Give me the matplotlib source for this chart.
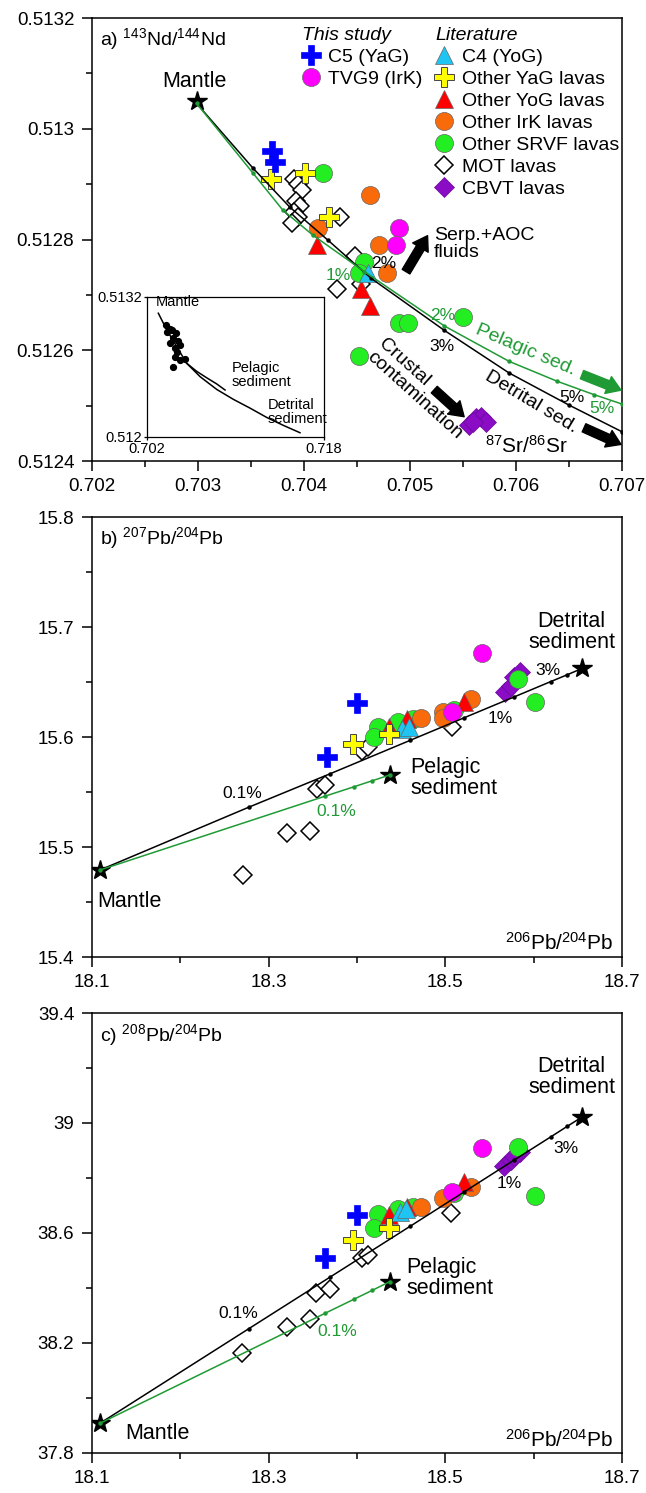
import matplotlib
matplotlib.use('Agg')
import matplotlib.pyplot as plt
from matplotlib.lines import Line2D
from matplotlib.ticker import FixedLocator, FuncFormatter
import numpy as np

plt.rcParams['font.family'] = ['Liberation Sans', 'DejaVu Sans']
plt.rcParams['mathtext.fontset'] = 'custom'
plt.rcParams['mathtext.rm'] = 'Liberation Sans'
plt.rcParams['mathtext.it'] = 'Liberation Sans:italic'

# ---------------- data: panel a (87Sr/86Sr vs 143Nd/144Nd) ----------------
a_x = {
    'C5':   [0.70370, 0.70373],
    'TVG9': [0.70490, 0.70487],
    'C4':   [0.70460],
    'YaG':  [0.70369, 0.70401, 0.70424],
    'YoG':  [0.70412, 0.70454, 0.70462],
    'IrK':  [0.70413, 0.70462, 0.70471, 0.70478],
    'SRVF': [0.70418, 0.70457, 0.70452, 0.70550, 0.70490, 0.70498, 0.70452],
    'MOT':  [0.70391, 0.70394, 0.70398, 0.70393, 0.70396, 0.70391, 0.70394,
             0.70389, 0.70434, 0.70448, 0.70454, 0.70431],
    'CBVT': [0.70556, 0.70562, 0.70567, 0.70572, 0.70559],
}
a_y = {
    'C5':   [0.51296, 0.51294],
    'TVG9': [0.51282, 0.51279],
    'C4':   [0.51274],
    'YaG':  [0.51291, 0.51292, 0.51284],
    'YoG':  [0.51279, 0.51271, 0.51268],
    'IrK':  [0.51282, 0.51288, 0.51279, 0.51274],
    'SRVF': [0.51292, 0.51276, 0.51274, 0.51266, 0.51265, 0.51265, 0.51259],
    'MOT':  [0.51291, 0.51290, 0.51289, 0.51287, 0.51286, 0.51285, 0.51284,
             0.51283, 0.51284, 0.51277, 0.51272, 0.51271],
    'CBVT': [0.512465, 0.512477, 0.512480, 0.512471, 0.512471],
}
# mixing curves
a_detrital_x = [0.702988, 0.703520, 0.703865, 0.704226, 0.704634, 0.705324, 0.705935, 0.706500, 0.706998]
a_detrital_y = [0.513046, 0.512929, 0.512859, 0.512799, 0.512730, 0.512636, 0.512559, 0.512501, 0.512453]
a_pelagic_x = [0.702988, 0.703520, 0.703802, 0.704085, 0.704571, 0.705324, 0.705935, 0.706389, 0.706734, 0.706998]
a_pelagic_y = [0.513046, 0.512920, 0.512853, 0.512808, 0.512742, 0.512644, 0.512580, 0.512544, 0.512520, 0.512503]
a_mantle = (0.70299, 0.51305)

# inset (wide view)
in_x = [0.70371, 0.70408, 0.70380, 0.70425, 0.70464, 0.70440, 0.70408, 0.70485,
        0.70500, 0.70455, 0.70470, 0.70455, 0.70500, 0.70545, 0.70440]
in_y = [0.512957, 0.512920, 0.512900, 0.512914, 0.512886, 0.512843, 0.512800, 0.512823,
        0.512786, 0.512758, 0.512729, 0.512686, 0.512657, 0.512663, 0.512595]
in_detrital_x = [0.70305, 0.70381, 0.70471, 0.70561, 0.70681, 0.70832, 0.70982, 0.71132, 0.71283, 0.71433, 0.71583]
in_detrital_y = [0.513058, 0.512915, 0.512771, 0.512629, 0.512515, 0.512405, 0.512320, 0.512245, 0.512165, 0.512097, 0.512034]
in_pelagic_x = [0.70561, 0.70651, 0.70741, 0.70832, 0.70907]
in_pelagic_y = [0.512629, 0.512560, 0.512505, 0.512452, 0.512400]

# ---------------- data: panel b (206Pb/204Pb vs 207Pb/204Pb) ----------------
b_x = {
    'C5':   [18.400, 18.366],
    'TVG9': [18.508, 18.541],
    'C4':   [18.451, 18.459],
    'YaG':  [18.396, 18.436],
    'YoG':  [18.436, 18.457, 18.521],
    'IrK':  [18.472, 18.497, 18.497, 18.529],
    'SRVF': [18.424, 18.419, 18.447, 18.463, 18.582, 18.602, 18.510],
    'MOT':  [18.271, 18.321, 18.347, 18.355, 18.364, 18.406, 18.412, 18.508],
    'CBVT': [18.568, 18.574, 18.578, 18.585],
}
b_y = {
    'C5':   [15.631, 15.582],
    'TVG9': [15.623, 15.676],
    'C4':   [15.607, 15.609],
    'YaG':  [15.594, 15.603],
    'YoG':  [15.609, 15.616, 15.632],
    'IrK':  [15.617, 15.623, 15.617, 15.635],
    'SRVF': [15.609, 15.600, 15.614, 15.616, 15.653, 15.632, 15.625],
    'MOT':  [15.475, 15.513, 15.515, 15.553, 15.556, 15.587, 15.591, 15.609],
    'CBVT': [15.641, 15.646, 15.655, 15.659],
}
b_detrital_x = [18.1094, 18.2774, 18.3700, 18.4606, 18.5210, 18.5777, 18.6193, 18.6382, 18.6552]
b_detrital_y = [15.4791, 15.5361, 15.5667, 15.5971, 15.6174, 15.6364, 15.6504, 15.6567, 15.6625]
b_pelagic_x = [18.1094, 18.3643, 18.3964, 18.4172, 18.4372]
b_pelagic_y = [15.4791, 15.5463, 15.5547, 15.5602, 15.5655]
b_mantle = (18.109, 15.479)
b_pel_end = (18.437, 15.5655)
b_det_end = (18.655, 15.6625)

# ---------------- data: panel c (206Pb/204Pb vs 208Pb/204Pb) ----------------
c_x = {
    'C5':   [18.400, 18.364],
    'TVG9': [18.541, 18.508],
    'C4':   [18.449, 18.456],
    'YaG':  [18.396, 18.436],
    'YoG':  [18.436, 18.457, 18.521],
    'IrK':  [18.472, 18.497, 18.529],
    'SRVF': [18.424, 18.419, 18.447, 18.463, 18.510, 18.582, 18.602],
    'MOT':  [18.270, 18.321, 18.347, 18.354, 18.370, 18.406, 18.412, 18.506],
    'CBVT': [18.566, 18.574, 18.585, 18.578],
}
c_y = {
    'C5':   [38.666, 38.508],
    'TVG9': [38.908, 38.750],
    'C4':   [38.678, 38.686],
    'YaG':  [38.575, 38.617],
    'YoG':  [38.666, 38.696, 38.787],
    'IrK':  [38.694, 38.726, 38.768],
    'SRVF': [38.669, 38.617, 38.686, 38.696, 38.744, 38.914, 38.736],
    'MOT':  [38.165, 38.257, 38.286, 38.381, 38.395, 38.508, 38.520, 38.672],
    'CBVT': [38.842, 38.866, 38.896, 38.880],
}
c_detrital_x = [18.1094, 18.2774, 18.3700, 18.4606, 18.5210, 18.5777, 18.6193, 18.6382, 18.6552]
c_detrital_y = [37.9081, 38.2514, 38.4404, 38.6252, 38.7488, 38.8648, 38.9495, 38.9884, 39.0229]
c_pelagic_x = [18.1094, 18.3643, 18.3964, 18.4172, 18.4372]
c_pelagic_y = [37.9081, 38.3085, 38.3587, 38.3913, 38.4230]
c_mantle = (18.109, 37.908)
c_pel_end = (18.437, 38.423)
c_det_end = (18.655, 39.023)

# ---------------- styles ----------------
GREEN_LINE = '#1f9a34'
styles = {
    'C5':   dict(marker='P', mfc='#0000ff', mec='#0000ff', ms=14, mew=0.5),
    'TVG9': dict(marker='o', mfc='#ff00ff', mec='#666666', ms=13, mew=0.5),
    'C4':   dict(marker='^', mfc='#1ec4f2', mec='#666666', ms=12.5, mew=0.5),
    'YaG':  dict(marker='P', mfc='#ffff00', mec='#444444', ms=14.5, mew=0.7),
    'YoG':  dict(marker='^', mfc='#ff0000', mec='#666666', ms=12.5, mew=0.5),
    'IrK':  dict(marker='o', mfc='#f96a0a', mec='#666666', ms=13, mew=0.5),
    'SRVF': dict(marker='o', mfc='#22ee22', mec='#666666', ms=13, mew=0.5),
    'MOT':  dict(marker='D', mfc='white', mec='black', ms=9.5, mew=1.1),
    'CBVT': dict(marker='D', mfc='#8a0cc4', mec='#6a0a9a', ms=10, mew=0.5),
}
labels = {
    'C5': 'C5 (YaG)', 'TVG9': 'TVG9 (IrK)', 'C4': 'C4 (YoG)',
    'YaG': 'Other YaG lavas', 'YoG': 'Other YoG lavas', 'IrK': 'Other IrK lavas',
    'SRVF': 'Other SRVF lavas', 'MOT': 'MOT lavas', 'CBVT': 'CBVT lavas',
}
draw_order = ['MOT', 'CBVT', 'SRVF', 'IrK', 'YoG', 'C4', 'YaG', 'TVG9', 'C5']

TICK_FS = 13.5
NOTE_FS = 15.5
PCT_FS = 12.5

fig = plt.figure(figsize=(6.46, 14.93), dpi=100)
L, W = 0.142, 0.821
ax_a = fig.add_axes([L, 0.6912, W, 0.2967])
ax_b = fig.add_axes([L, 0.3590, W, 0.2947])
ax_c = fig.add_axes([L, 0.0268, W, 0.2947])


def fmt(v, pos):
    return '{:g}'.format(round(v, 6))


def dress(ax, xlim, ylim, xmaj, xmin, ymaj, ymin):
    ax.set_xlim(*xlim)
    ax.set_ylim(*ylim)
    ax.xaxis.set_major_locator(FixedLocator(xmaj))
    ax.xaxis.set_minor_locator(FixedLocator(xmin))
    ax.yaxis.set_major_locator(FixedLocator(ymaj))
    ax.yaxis.set_minor_locator(FixedLocator(ymin))
    ax.xaxis.set_major_formatter(FuncFormatter(fmt))
    ax.yaxis.set_major_formatter(FuncFormatter(fmt))
    ax.tick_params(which='major', direction='out', length=7, width=1.1,
                   labelsize=TICK_FS, pad=5.5, top=False, right=False)
    ax.tick_params(which='minor', direction='out', length=4, width=1.1,
                   top=False, right=False)
    for s in ax.spines.values():
        s.set_linewidth(1.1)


def scatter_groups(ax, xs, ys):
    for key in draw_order:
        ax.plot(xs[key], ys[key], ls='none', zorder=2, **styles[key])


def curve(ax, x, y, color):
    ax.plot(x, y, color=color, lw=1.1, marker='o', ms=2.2, zorder=4)


def star(ax, pt):
    ax.plot([pt[0]], [pt[1]], marker='*', color='black', ms=15, ls='none', zorder=3)


def block_arrow(ax, tail, head, color):
    ax.annotate('', xy=head, xytext=tail, zorder=6,
                arrowprops=dict(arrowstyle='simple,head_length=0.5,head_width=0.65,tail_width=0.32',
                                color=color, mutation_scale=20, shrinkA=0, shrinkB=0))


# ================= panel a =================
ax = ax_a
dress(ax, (0.702, 0.707), (0.5124, 0.5132),
      np.arange(0.702, 0.7071, 0.001), np.arange(0.7025, 0.707, 0.001),
      np.arange(0.5124, 0.51321, 0.0002), np.arange(0.5125, 0.5132, 0.0002))
scatter_groups(ax, a_x, a_y)
curve(ax, a_detrital_x, a_detrital_y, 'black')
curve(ax, a_pelagic_x, a_pelagic_y, GREEN_LINE)
star(ax, a_mantle)

ax.text(0.016, 0.953, r'a) $\mathregular{^{143}}$Nd/$\mathregular{^{144}}$Nd', transform=ax.transAxes,
        fontsize=14, ha='left', va='center')
ax.text(0.899, 0.034, r'$\mathregular{^{87}}$Sr/$\mathregular{^{86}}$Sr', transform=ax.transAxes,
        fontsize=15, ha='right', va='center')
ax.text(0.702972, 0.513085, 'Mantle', fontsize=NOTE_FS, ha='center', va='center')
ax.text(0.705229, 0.512792, 'Serp.+AOC\nfluids', fontsize=14, ha='left', va='center', linespacing=1.05)
block_arrow(ax, (0.704963, 0.512742), (0.705166, 0.512807), 'black')
ax.text(0.705098, 0.51253, 'Crustal\ncontamination', fontsize=14, rotation=-42,
        rotation_mode='anchor', ha='center', va='center', multialignment='left', linespacing=1.1)
block_arrow(ax, (0.705229, 0.512529), (0.705511, 0.512480), 'black')
ax.text(0.706092, 0.512601, 'Pelagic sed.', fontsize=14, color=GREEN_LINE, rotation=-23,
        rotation_mode='anchor', ha='center', va='center')
block_arrow(ax, (0.706622, 0.512556), (0.706990, 0.512528), GREEN_LINE)
ax.text(0.706139, 0.512507, 'Detrital sed.', fontsize=14, rotation=-31,
        rotation_mode='anchor', ha='center', va='center')
block_arrow(ax, (0.706641, 0.512460), (0.706990, 0.512430), 'black')
ax.text(0.70432, 0.512735, '1%', fontsize=PCT_FS, color=GREEN_LINE, ha='center', va='center')
ax.text(0.70475, 0.512757, '2%', fontsize=PCT_FS, ha='center', va='center')
ax.text(0.705308, 0.512662, '2%', fontsize=PCT_FS, color=GREEN_LINE, ha='center', va='center')
ax.text(0.705302, 0.512607, '3%', fontsize=PCT_FS, ha='center', va='center')
ax.text(0.70653, 0.512514, '5%', fontsize=PCT_FS, ha='center', va='center')
ax.text(0.706813, 0.512494, '5%', fontsize=PCT_FS, color=GREEN_LINE, ha='center', va='center')


def handle(key):
    return Line2D([], [], ls='none', **styles[key])


leg_kw = dict(loc='upper left', frameon=False, fontsize=14, borderpad=0, borderaxespad=0,
              handlelength=0.95, handletextpad=0.42, labelspacing=0.22, alignment='left',
              title_fontproperties={'style': 'italic', 'size': 14}, markerscale=1.0)
keys1 = ['C5', 'TVG9']
keys2 = ['C4', 'YaG', 'YoG', 'IrK', 'SRVF', 'MOT', 'CBVT']
leg1 = ax.legend([handle(k) for k in keys1], [labels[k] for k in keys1], title='This study',
                 bbox_to_anchor=(0.396, 0.979), **leg_kw)
ax.add_artist(leg1)
ax.legend([handle(k) for k in keys2], [labels[k] for k in keys2], title='Literature',
          bbox_to_anchor=(0.6474, 0.979), **leg_kw)

# inset
ax_in = fig.add_axes([0.2271, 0.7075, 0.2745, 0.0938])
ax_in.set_xlim(0.702, 0.718)
ax_in.set_ylim(0.512, 0.5132)
ax_in.xaxis.set_major_locator(FixedLocator([0.702, 0.718]))
ax_in.yaxis.set_major_locator(FixedLocator([0.512, 0.5132]))
ax_in.xaxis.set_major_formatter(FuncFormatter(fmt))
ax_in.yaxis.set_major_formatter(FuncFormatter(fmt))
ax_in.tick_params(direction='out', length=2.5, width=0.9, labelsize=10.5, pad=1)
for s in ax_in.spines.values():
    s.set_linewidth(0.9)
ax_in.plot(in_detrital_x, in_detrital_y, color='black', lw=1.1)
ax_in.plot(in_pelagic_x, in_pelagic_y, color='black', lw=1.1)
ax_in.plot(in_x, in_y, ls='none', marker='o', ms=4.2, color='black')
ax_in.text(0.7028, 0.51315, 'Mantle', fontsize=10.5, ha='left', va='center')
ax_in.text(0.7097, 0.51253, 'Pelagic\nsediment', fontsize=10.5, ha='left', va='center', linespacing=1.05)
ax_in.text(0.7129, 0.51221, 'Detrital\nsediment', fontsize=10.5, ha='left', va='center', linespacing=1.05)

# ================= panel b =================
ax = ax_b
dress(ax, (18.1, 18.7), (15.4, 15.8),
      [18.1, 18.3, 18.5, 18.7], [18.2, 18.4, 18.6],
      [15.4, 15.5, 15.6, 15.7, 15.8], [15.45, 15.55, 15.65, 15.75])
scatter_groups(ax, b_x, b_y)
curve(ax, b_detrital_x, b_detrital_y, 'black')
curve(ax, b_pelagic_x, b_pelagic_y, GREEN_LINE)
for p in (b_mantle, b_pel_end, b_det_end):
    star(ax, p)
ax.text(0.016, 0.952, r'b) $\mathregular{^{207}}$Pb/$\mathregular{^{204}}$Pb', transform=ax.transAxes,
        fontsize=14, ha='left', va='center')
ax.text(0.983, 0.032, r'$\mathregular{^{206}}$Pb/$\mathregular{^{204}}$Pb', transform=ax.transAxes,
        fontsize=15, ha='right', va='center')
ax.text(18.106, 15.4503, 'Mantle', fontsize=NOTE_FS, ha='left', va='center')
ax.text(18.270, 15.5488, '0.1%', fontsize=PCT_FS, ha='center', va='center')
ax.text(18.3765, 15.5321, '0.1%', fontsize=PCT_FS, color=GREEN_LINE, ha='center', va='center')
ax.text(18.4606, 15.5623, 'Pelagic\nsediment', fontsize=NOTE_FS, ha='left', va='center', linespacing=1.0)
ax.text(18.643, 15.6955, 'Detrital\nsediment', fontsize=NOTE_FS, ha='center', va='center', linespacing=1.0)
ax.text(18.5626, 15.617, '1%', fontsize=PCT_FS, ha='center', va='center')
ax.text(18.6162, 15.6603, '3%', fontsize=PCT_FS, ha='center', va='center')

# ================= panel c =================
ax = ax_c
dress(ax, (18.1, 18.7), (37.8, 39.4),
      [18.1, 18.3, 18.5, 18.7], [18.2, 18.4, 18.6],
      [37.8, 38.2, 38.6, 39.0, 39.4], [38.0, 38.4, 38.8, 39.2])
scatter_groups(ax, c_x, c_y)
curve(ax, c_detrital_x, c_detrital_y, 'black')
curve(ax, c_pelagic_x, c_pelagic_y, GREEN_LINE)
for p in (c_mantle, c_pel_end, c_det_end):
    star(ax, p)
ax.text(0.016, 0.950, r'c) $\mathregular{^{208}}$Pb/$\mathregular{^{204}}$Pb', transform=ax.transAxes,
        fontsize=14, ha='left', va='center')
ax.text(0.983, 0.030, r'$\mathregular{^{206}}$Pb/$\mathregular{^{204}}$Pb', transform=ax.transAxes,
        fontsize=15, ha='right', va='center')
ax.text(18.1378, 37.8718, 'Mantle', fontsize=NOTE_FS, ha='left', va='center')
ax.text(18.2658, 38.3081, '0.1%', fontsize=PCT_FS, ha='center', va='center')
ax.text(18.3783, 38.2412, '0.1%', fontsize=PCT_FS, color=GREEN_LINE, ha='center', va='center')
ax.text(18.4561, 38.4365, 'Pelagic\nsediment', fontsize=NOTE_FS, ha='left', va='center', linespacing=1.0)
ax.text(18.6428, 39.1655, 'Detrital\nsediment', fontsize=NOTE_FS, ha='center', va='center', linespacing=1.0)
ax.text(18.572, 38.7808, '1%', fontsize=PCT_FS, ha='center', va='center')
ax.text(18.6362, 38.908, '3%', fontsize=PCT_FS, ha='center', va='center')

fig.savefig('out.png', dpi=100)
